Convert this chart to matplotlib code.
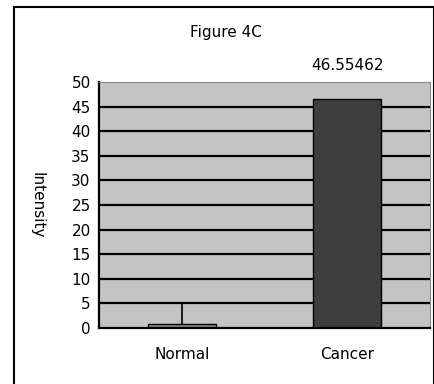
import numpy as np
import matplotlib
matplotlib.use("Agg")
import matplotlib.pyplot as plt
import matplotlib.patches as patches

# --- Data ---
categories = ["Normal", "Cancer"]
values = [0.8, 46.55462]
errors = [4.0, 0.0]
yticks = [0, 5, 10, 15, 20, 25, 30, 35, 40, 45, 50]

plt.rcParams['font.family'] = ['DejaVu Sans']

fig = plt.figure(figsize=(4.35, 3.84), dpi=100)
fig.patch.set_facecolor('white')

# outer frame round the whole chart
frame = patches.Rectangle((14 / 435, -0.01), 420 / 435, 1 - 7 / 384 + 0.01,
                          transform=fig.transFigure, fill=False,
                          edgecolor='black', linewidth=1.5)
fig.patches.append(frame)

# plot area
ax = fig.add_axes([99 / 435, 1 - 328 / 384, 331 / 435, 246 / 384])
ax.set_facecolor('#c4c4c4')
ax.set_xlim(-0.5, 1.5)
ax.set_ylim(0, 50)

# horizontal grid lines behind the bars
for t in yticks[1:-1]:
    ax.axhline(t, color='black', linewidth=1.6, zorder=1)

x = np.arange(len(categories))
ax.bar(x, values, width=0.41, color=['#8a8a8a', '#3e3e3e'],
       edgecolor='black', linewidth=1.0, zorder=2)
ax.errorbar(x[0], values[0], yerr=[[0], [errors[0]]], fmt='none',
            ecolor='black', elinewidth=1.2, capsize=0, zorder=3)

# value label above the cancer bar
ax.text(x[1], 53.3, f"{values[1]:.5f}", ha='center', va='center', fontsize=11)

ax.set_yticks(yticks)
ax.set_yticklabels([str(t) for t in yticks], fontsize=11)
ax.set_xticks(x)
ax.set_xticklabels(categories, fontsize=11)
ax.tick_params(axis='y', length=0, pad=6)
ax.tick_params(axis='x', length=0, pad=14)

for side in ['top', 'right']:
    ax.spines[side].set_color('#888888')
    ax.spines[side].set_linewidth(0.8)
for side in ['left', 'bottom']:
    ax.spines[side].set_color('black')
    ax.spines[side].set_linewidth(1.6)

fig.text(226 / 435, 1 - 32 / 384, "Figure 4C", ha='center', va='center', fontsize=11)
fig.text(37 / 435, 1 - 205 / 384, "Intensity", ha='center', va='center',
         rotation=270, fontsize=11)

fig.savefig("out.png", dpi=100)
